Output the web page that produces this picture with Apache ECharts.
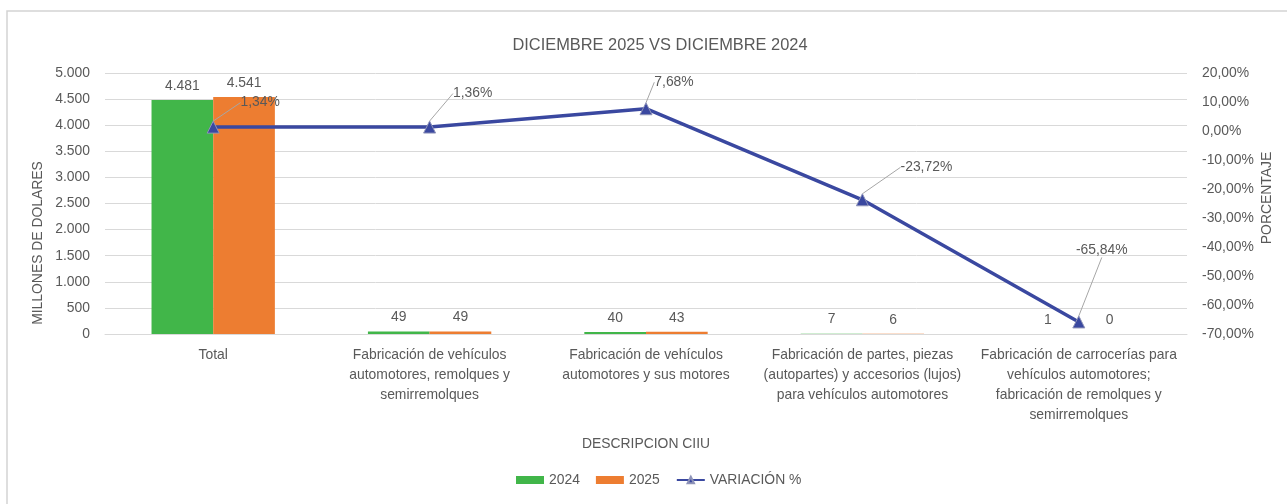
<!DOCTYPE html>
<html>
<head>
<meta charset="utf-8">
<script src="https://cdn.jsdelivr.net/npm/echarts@6/dist/echarts.min.js"></script>
<style>
html,body{margin:0;padding:0;background:#fff;}
#chart{width:1287px;height:504px;}
</style>
</head>
<body>
<div id="chart"></div>
<script>
// ---- data ----
const categories = [
  "Total",
  "Fabricación de vehículos\nautomotores, remolques y\nsemirremolques",
  "Fabricación de vehículos\nautomotores y sus motores",
  "Fabricación de partes, piezas\n(autopartes) y accesorios (lujos)\npara vehículos automotores",
  "Fabricación de carrocerías para\nvehículos automotores;\nfabricación de remolques y\nsemirremolques"
];
const values2024 = [4481, 49, 40, 7, 1];
const values2025 = [4541, 49, 43, 6, 0];
const variation = [1.34, 1.36, 7.68, -23.72, -65.84];
const seriesNames = ["2024", "2025", "VARIACIÓN %"];
const titleText = "DICIEMBRE 2025 VS DICIEMBRE 2024";

// ---- layout helpers (not data) ----
const labelShift = [[47, -11], [43, -20], [28, -13], [64, -19], [23, -58]];

function hasFont(name) {
  const c = document.createElement('canvas').getContext('2d');
  const s = 'abcdefghijklmnopqrstuvwxyz ABCDEFGHIJ 0123456789';
  c.font = '40px monospace';
  const w1 = c.measureText(s).width;
  c.font = '40px "' + name + '", monospace';
  return Math.abs(c.measureText(s).width - w1) > 0.5;
}
let FONT = 'Liberation Sans', SCALE = 0.82;
if (hasFont('Liberation Sans Narrow')) { FONT = 'Liberation Sans Narrow'; SCALE = 1; }
else if (hasFont('Arial Narrow')) { FONT = 'Arial Narrow'; SCALE = 1; }
const fs = v => Math.round(v * SCALE * 10) / 10;
const TXT = '#595959';

function thousands(v) {
  return String(Math.round(v)).replace(/\B(?=(\d{3})+(?!\d))/g, '.');
}
function pct(v) { return v.toFixed(2).replace('.', ',') + '%'; }

const chart = echarts.init(document.getElementById('chart'), null, {renderer: 'canvas'});
chart.setOption({
  animation: false,
  textStyle: {fontFamily: FONT, color: TXT},
  title: {
    text: titleText, left: 655, top: 32, textAlign: 'center',
    textStyle: {fontFamily: FONT, fontSize: fs(20), fontWeight: 'normal', color: TXT}
  },
  grid: {left: 105, right: 100, top: 73, bottom: 170, containLabel: false},
  legend: {
    data: [
      {name: seriesNames[0], icon: 'rect'},
      {name: seriesNames[1], icon: 'rect'},
      {name: seriesNames[2]}
    ],
    left: 516, top: 473, padding: 0, itemWidth: 28, itemHeight: 8, itemGap: 16,
    textStyle: {fontFamily: FONT, fontSize: fs(17), color: TXT}
  },
  xAxis: {
    type: 'category', data: categories,
    name: 'DESCRIPCION CIIU', nameLocation: 'middle', nameGap: 103,
    nameTextStyle: {fontFamily: FONT, fontSize: fs(17), color: TXT},
    axisLine: {show: true, lineStyle: {color: '#D9D9D9', width: 1}},
    axisTick: {show: false},
    axisLabel: {interval: 0, margin: 11, fontFamily: FONT, fontSize: fs(17), lineHeight: 20, color: TXT, align: 'center'}
  },
  yAxis: [
    {
      type: 'value', min: 0, max: 5000, interval: 500,
      axisLine: {show: false}, axisTick: {show: false},
      splitLine: {lineStyle: {color: '#D9D9D9', width: 1}},
      axisLabel: {margin: 15, fontFamily: FONT, fontSize: fs(17), color: TXT, formatter: v => thousands(v)}
    },
    {
      type: 'value', min: -70, max: 20, interval: 10,
      axisLine: {show: false}, axisTick: {show: false},
      splitLine: {show: false},
      axisLabel: {margin: 15, fontFamily: FONT, fontSize: fs(17), color: TXT, formatter: v => pct(v)}
    }
  ],
  series: [
    {
      name: seriesNames[0], type: 'bar', data: values2024, yAxisIndex: 0,
      barGap: '0%', barCategoryGap: '43%',
      itemStyle: {color: '#41B649'},
      label: {show: true, position: 'top', distance: 7, fontFamily: FONT, fontSize: fs(17), color: TXT,
        formatter: p => thousands(p.value)}
    },
    {
      name: seriesNames[1], type: 'bar', data: values2025, yAxisIndex: 0,
      itemStyle: {color: '#ED7D31'},
      label: {show: true, position: 'top', distance: 7, fontFamily: FONT, fontSize: fs(17), color: TXT,
        formatter: p => thousands(p.value)}
    },
    {
      name: seriesNames[2], type: 'line', data: variation, yAxisIndex: 1,
      symbol: 'triangle', symbolSize: 12,
      lineStyle: {color: '#3A48A0', width: 3.5},
      itemStyle: {color: '#3A48A0', borderColor: '#8E93B8', borderWidth: 1},
      z: 5,
      label: {show: true, position: 'top', distance: 0, fontFamily: FONT, fontSize: fs(17), color: TXT,
        formatter: p => pct(p.value)},
      labelLine: {show: true, lineStyle: {color: '#A6A6A6', width: 1}},
      labelLayout: p => ({dx: labelShift[p.dataIndex][0], dy: labelShift[p.dataIndex][1]})
    }
  ],
  graphic: [
    {type: 'rect', shape: {x: 7, y: 11, width: 1400, height: 600}, silent: true, z: -10,
      style: {fill: 'none', stroke: '#D3D3D3', lineWidth: 1.5}},
    {type: 'text', x: 38, y: 243, rotation: Math.PI / 2,
      style: {text: 'MILLONES DE DOLARES', fontFamily: FONT, fontSize: fs(17), fill: TXT,
        textAlign: 'center', textVerticalAlign: 'middle'}},
    {type: 'text', x: 1267, y: 198, rotation: Math.PI / 2,
      style: {text: 'PORCENTAJE', fontFamily: FONT, fontSize: fs(17), fill: TXT,
        textAlign: 'center', textVerticalAlign: 'middle'}}
  ]
});
</script>
</body>
</html>
